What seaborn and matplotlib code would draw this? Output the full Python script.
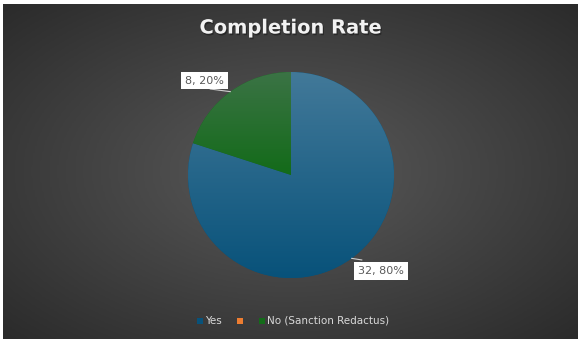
import numpy as np
import matplotlib
matplotlib.use("Agg")
import matplotlib.pyplot as plt
import matplotlib.patheffects as pe
from matplotlib.colors import LinearSegmentedColormap
from matplotlib.patches import Rectangle
import seaborn as sns

sns.set_theme(style="white")
plt.rcParams['font.family'] = ['DejaVu Sans']

categories = ["Yes", "", "No (Sanction Redactus)"]
counts = [32, 0, 8]
colors = ["#08527a", "#ed7d31", "#136b19"]
top_colors = ["#427999", "#ed7d31", "#3b7345"]
title = "Completion Rate"

W, H = 583, 345
fig = plt.figure(figsize=(W / 100, H / 100), dpi=100)
fig.patch.set_facecolor("white")

# background panel with radial gradient
bg = fig.add_axes([3 / W, 1 - 339 / H, 575 / W, 335 / H])
bg.set_axis_off()
yy, xx = np.mgrid[0:1:200j, 0:1:340j]
r = np.sqrt(((xx - 0.5) / 0.5) ** 2 + ((yy - 0.5) / 0.5) ** 2) / np.sqrt(2)
bgcmap = LinearSegmentedColormap.from_list("bg", ["#5a5a5a", "#2b2b2b"])
bg.imshow(r, cmap=bgcmap, aspect="auto", extent=[0, 1, 0, 1], vmin=0, vmax=1)
bg.set_xlim(0, 1)
bg.set_ylim(0, 1)

# pie axes
cx, cy, rad = 291, 175, 103
ax = fig.add_axes([(cx - rad) / W, 1 - (cy + rad) / H, 2 * rad / W, 2 * rad / H])
ax.set_axis_off()
wedges, _ = ax.pie(counts, colors=colors, startangle=90, counterclock=False,
                   radius=1.0, wedgeprops=dict(linewidth=0))

# gradient overlay on wedges (vertical, lighter at the top)
for i, w in enumerate(wedges):
    if counts[i] == 0:
        continue
    ext = w.get_path().get_extents()
    cm = LinearSegmentedColormap.from_list("g%d" % i, [colors[i], top_colors[i]])
    grad = np.linspace(0, 1, 256).reshape(-1, 1)
    im = ax.imshow(grad, cmap=cm, extent=[-1, 1, ext.y0, ext.y1], origin="lower",
                   aspect="auto", zorder=w.get_zorder() + 0.1)
    im.set_clip_path(w)
ax.set_xlim(-1.0, 1.0)
ax.set_ylim(-1.0, 1.0)

total = sum(counts)
# label text anchor and leader-line end, in pie data units
label_pos = {0: ((0.65, -0.932), (0.689, -0.825), -54),
             2: ((-0.65, 0.917), (-0.786, 0.835), 126)}
for i, w in enumerate(wedges):
    if counts[i] == 0:
        continue
    txt = "%d, %d%%" % (counts[i], round(100 * counts[i] / total))
    (lx, ly), (qx, qy), ea = label_pos[i]
    ha = "left" if lx > 0 else "right"
    ex, ey = np.cos(np.deg2rad(ea)), np.sin(np.deg2rad(ea))
    ax.plot([ex, qx], [ey, qy], color="#d0d0d0", lw=0.8, zorder=5, clip_on=False)
    ax.text(lx, ly, txt, ha=ha, va="center", fontsize=8, color="#595959",
            bbox=dict(boxstyle="square,pad=0.35", fc="white", ec="none"),
            zorder=6, clip_on=False)

# title
fig.text(291 / W, 1 - 28 / H, title, ha="center", va="center", fontsize=14,
         fontweight="bold", color="#f2f2f2",
         path_effects=[pe.withSimplePatchShadow(offset=(0.8, -1.2), shadow_rgbFace="black", alpha=0.35)])

# legend
leg_items = [(197, categories[0], colors[0]), (237, categories[1], colors[1]),
             (259, categories[2], colors[2])]
for x, lab, c in leg_items:
    fig.patches.append(Rectangle((x / W, 1 - 324 / H), 6 / W, 6 / H,
                                 transform=fig.transFigure, fc=c, ec="none"))
    if lab:
        fig.text((x + 8) / W, 1 - 320.5 / H, lab, ha="left", va="center",
                 fontsize=7.5, color="#d9d9d9")

fig.savefig("out.png", dpi=100, facecolor="white")
